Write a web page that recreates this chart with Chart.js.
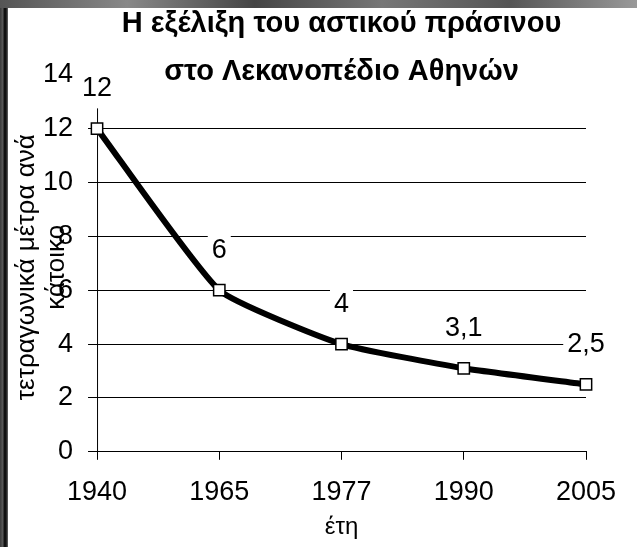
<!DOCTYPE html>
<html>
<head>
<meta charset="utf-8">
<script src="https://cdn.jsdelivr.net/npm/chart.js@4/dist/chart.umd.min.js"></script>
<style>
  html, body { margin: 0; padding: 0; }
  body {
    width: 637px; height: 547px; overflow: hidden; position: relative;
    background: linear-gradient(90deg, #3a3a3a 0px, #5c5c5c 3px, #111 4px, #111 6px, #6a6a6a 8px);
  }
  #top {
    position: absolute; left: 0; top: 0; width: 637px; height: 8px;
    background: linear-gradient(90deg, #555, #888 20%, #444 40%, #777 60%, #555 80%, #999);
  }
  #wrap {
    position: absolute; left: 8px; top: 8px; width: 629px; height: 539px; background: #fff;
  }
</style>
</head>
<body>
<div id="top"></div>
<div id="wrap"><canvas id="chart" width="629" height="539"></canvas></div>
<script>
const years = ['1940', '1965', '1977', '1990', '2005'];
const greenSpace = [12, 6, 4, 3.1, 2.5];
const yTicks = [0, 2, 4, 6, 8, 10, 12, 14];

const chartTitle = ['Η εξέλιξη του αστικού πράσινου', 'στο Λεκανοπέδιο Αθηνών'];
const yTitle = ['τετραγωνικά μέτρα ανά', 'κάτοικο'];
const xTitle = 'έτη';

const FONT = 'Arial, "Liberation Sans", sans-serif';

// value labels above the markers, on a white box
const valueLabels = {
  id: 'valueLabels',
  afterDatasetsDraw(chart) {
    const ctx = chart.ctx;
    const meta = chart.getDatasetMeta(0);
    ctx.save();
    ctx.font = '27px ' + FONT;
    ctx.textAlign = 'center';
    ctx.textBaseline = 'middle';
    meta.data.forEach((pt, i) => {
      const txt = String(greenSpace[i]).replace('.', ',');
      const w = ctx.measureText(txt).width;
      const y = pt.y - 40;
      ctx.fillStyle = '#fff';
      ctx.fillRect(pt.x - w / 2 - 4, y - 15, w + 8, 30);
      ctx.fillStyle = '#000';
      ctx.fillText(txt, pt.x, y);
    });
    ctx.restore();
  }
};

// y axis line (stops below the title) and the rotated axis title
const yAxisDecor = {
  id: 'yAxisDecor',
  beforeDatasetsDraw(chart) {
    const ctx = chart.ctx;
    const y = chart.scales.y;
    const x = chart.scales.x.left;
    ctx.save();
    ctx.strokeStyle = '#000';
    ctx.lineWidth = 1;
    ctx.beginPath();
    ctx.moveTo(x + 0.5, y.getPixelForValue(0));
    ctx.lineTo(x + 0.5, y.getPixelForValue(12.75));
    ctx.stroke();
    ctx.restore();
  },
  afterDraw(chart) {
    const ctx = chart.ctx;
    const a = chart.chartArea;
    ctx.save();
    ctx.translate(19, (a.top + a.bottom) / 2 + 4);
    ctx.rotate(-Math.PI / 2);
    ctx.font = '26px ' + FONT;
    ctx.fillStyle = '#000';
    ctx.textAlign = 'center';
    ctx.textBaseline = 'middle';
    ctx.fillText(yTitle[0], 0, 0);
    ctx.fillText(yTitle[1], 0, 30);
    ctx.restore();
  }
};

new Chart(document.getElementById('chart'), {
  type: 'line',
  data: {
    labels: years,
    datasets: [{
      data: greenSpace,
      borderColor: '#000',
      borderWidth: 6,
      tension: 0.15,
      pointStyle: 'rect',
      pointRadius: 8,
      pointBackgroundColor: '#fff',
      pointBorderColor: '#000',
      pointBorderWidth: 1.5
    }]
  },
  options: {
    responsive: false,
    animation: false,
    layout: { padding: { left: 20, right: 51, top: 0, bottom: 2 } },
    plugins: {
      legend: { display: false },
      tooltip: { enabled: false },
      title: {
        display: true,
        fullSize: false,
        text: chartTitle,
        color: '#000',
        font: { family: FONT, size: 29, weight: 'bold', lineHeight: 1.65 },
        padding: { top: -8, bottom: -21 }
      }
    },
    scales: {
      x: {
        offset: false,
        grid: { drawOnChartArea: false, color: '#000', tickLength: 8 },
        border: { color: '#000' },
        ticks: { color: '#000', font: { family: FONT, size: 27 }, padding: 17, maxRotation: 0 },
        title: {
          display: true, text: xTitle, color: '#000',
          font: { family: FONT, size: 24 }, padding: { top: -13, bottom: 3 }
        }
      },
      y: {
        min: 0,
        max: 14,
        afterBuildTicks(scale) { scale.ticks = yTicks.map(v => ({ value: v })); },
        grid: {
          color: c => (c.tick && c.tick.value === 14) ? 'rgba(0,0,0,0)' : '#000',
          tickLength: 9
        },
        border: { display: false },
        ticks: { color: '#000', font: { family: FONT, size: 27 }, padding: 15 }
      }
    }
  },
  plugins: [valueLabels, yAxisDecor]
});
</script>
</body>
</html>
